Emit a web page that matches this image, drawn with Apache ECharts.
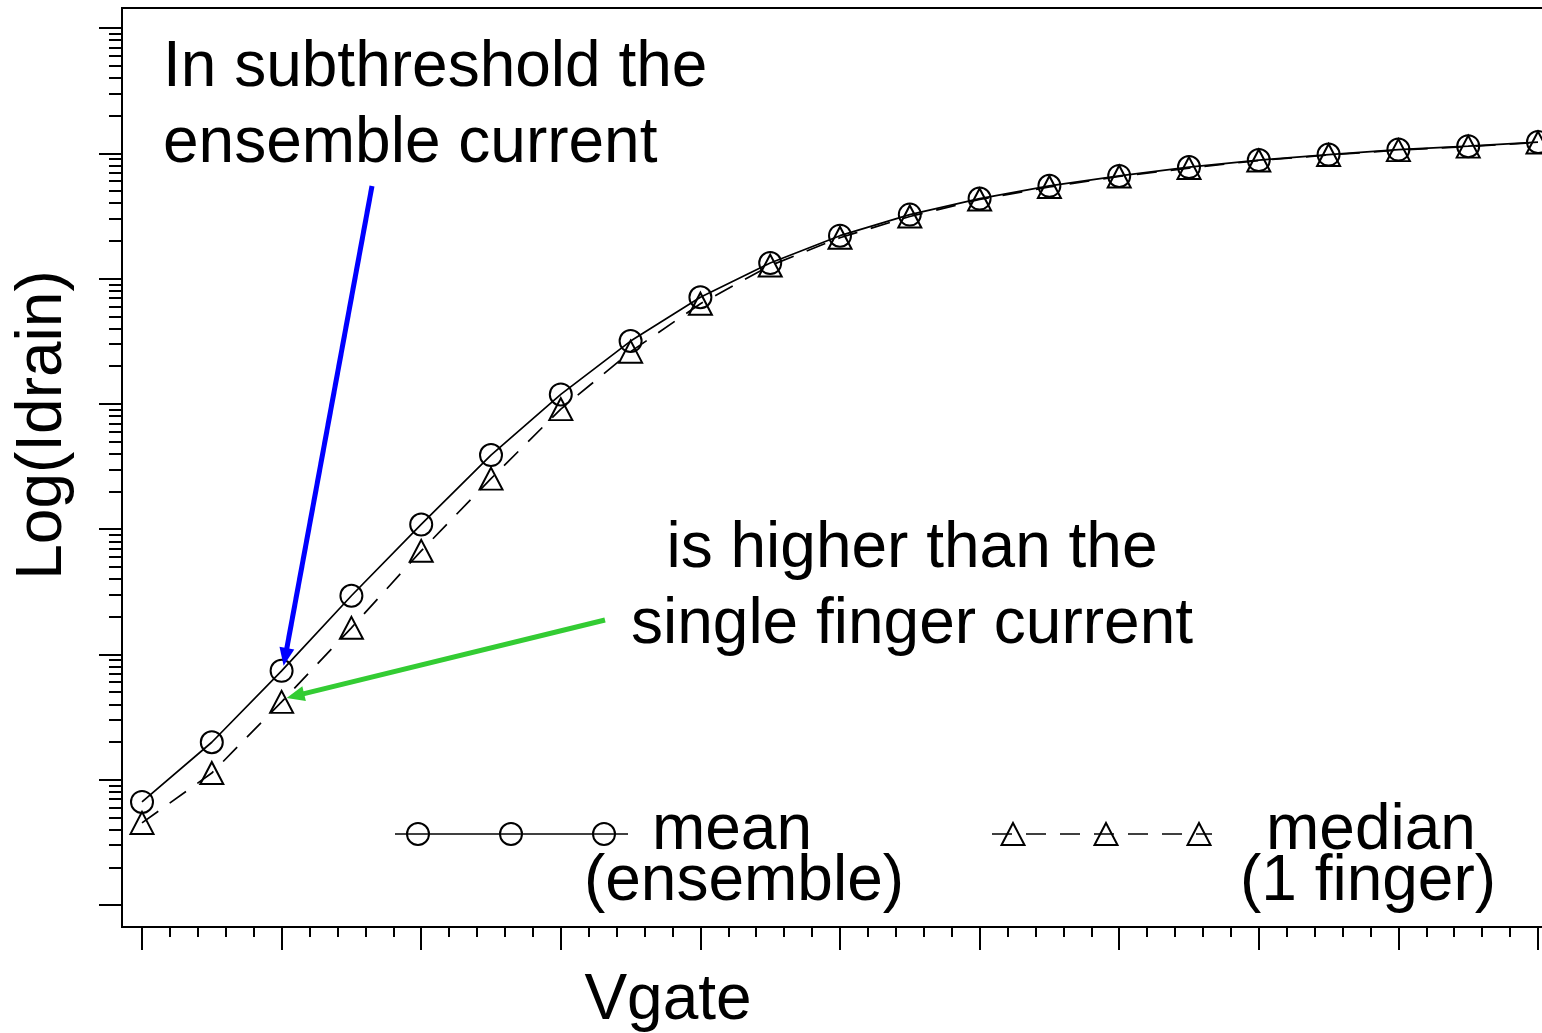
<!DOCTYPE html>
<html>
<head>
<meta charset="utf-8">
<title>Log(Idrain) vs Vgate</title>
<script src="https://cdn.jsdelivr.net/npm/echarts@6/dist/echarts.min.js"></script>
<style>
  html, body { margin: 0; padding: 0; background: #fff; overflow: hidden; }
  #main { width: 1542px; height: 1033px; }
</style>
</head>
<body>
<div id="main"></div>
<script>
// Gate voltage sweep (V)
const vgate = [0.00, 0.05, 0.10, 0.15, 0.20, 0.25, 0.30, 0.35, 0.40, 0.45, 0.50,
               0.55, 0.60, 0.65, 0.70, 0.75, 0.80, 0.85, 0.90, 0.95, 1.00];

// Mean drain current of the ensemble (A)
const meanCurrent = [6.65e-12, 1.99e-11, 7.4e-11, 2.94e-10, 1.09e-9, 3.9e-9, 1.19e-8,
                     3.17e-8, 7.1e-8, 1.33e-7, 2.2e-7, 3.24e-7, 4.35e-7, 5.5e-7,
                     6.6e-7, 7.76e-7, 8.83e-7, 9.77e-7, 1.07e-6, 1.14e-6, 1.23e-6];

// Median drain current of a single finger (A)
const medianCurrent = [4.52e-12, 1.13e-11, 4.18e-11, 1.63e-10, 6.71e-10, 2.53e-9, 9.08e-9,
                       2.61e-8, 6.3e-8, 1.27e-7, 2.12e-7, 3.13e-7, 4.28e-7, 5.38e-7,
                       6.53e-7, 7.62e-7, 8.75e-7, 9.68e-7, 1.06e-6, 1.13e-6, 1.22e-6];

// Tick positions (no tick labels are drawn)
const xMajorTicks = [0, 0.1, 0.2, 0.3, 0.4, 0.5, 0.6, 0.7, 0.8, 0.9, 1.0];
const xMinorTicks = [];
for (let i = 0; i < 50; i++) {
  if (i % 5 !== 0) xMinorTicks.push(+(i * 0.02).toFixed(2));
}
const yMajorTicks = [1e-12, 1e-11, 1e-10, 1e-9, 1e-8, 1e-7, 1e-6, 1e-5];
const yMinorTicks = [];
for (let e = -12; e < -5; e++) {
  for (let k = 2; k <= 9; k++) yMinorTicks.push(k * Math.pow(10, e));
}

const FONT = '"Liberation Sans", Arial, Helvetica, sans-serif';
const FONT_SIZE = 64;
const xRange = [-0.01433, 1.00573];
const yRange = [Math.pow(10, -12.1757), Math.pow(10, -4.8403)];

const chart = echarts.init(document.getElementById('main'), null, { renderer: 'canvas' });

const hiddenLabel = { show: false };
const noSplit = { show: false };

const option = {
  animation: false,
  backgroundColor: '#fff',
  grid: {
    left: 122, top: 8, width: 1424, height: 919,
    outerBoundsMode: 'none', containLabel: false,
    show: true, borderColor: '#000', borderWidth: 2, backgroundColor: 'transparent'
  },
  xAxis: [
    {
      type: 'value', min: xRange[0], max: xRange[1],
      axisLine: { show: true, onZero: false, lineStyle: { color: '#000', width: 2 } },
      axisTick: { show: true, inside: false, length: 23, customValues: xMajorTicks,
                  lineStyle: { color: '#000', width: 2 } },
      axisLabel: hiddenLabel, splitLine: noSplit
    },
    {
      type: 'value', min: xRange[0], max: xRange[1], position: 'bottom',
      axisLine: { show: false, onZero: false },
      axisTick: { show: true, inside: false, length: 10, customValues: xMinorTicks,
                  lineStyle: { color: '#000', width: 2 } },
      axisLabel: hiddenLabel, splitLine: noSplit
    }
  ],
  yAxis: [
    {
      type: 'log', logBase: 10, min: yRange[0], max: yRange[1],
      axisLine: { show: true, onZero: false, lineStyle: { color: '#000', width: 2 } },
      axisTick: { show: true, inside: false, length: 23, customValues: yMajorTicks,
                  lineStyle: { color: '#000', width: 2 } },
      axisLabel: hiddenLabel, splitLine: noSplit
    },
    {
      type: 'log', logBase: 10, min: yRange[0], max: yRange[1], position: 'left', offset: 0,
      axisLine: { show: false, onZero: false },
      axisTick: { show: true, inside: false, length: 13, customValues: yMinorTicks,
                  lineStyle: { color: '#000', width: 2 } },
      axisLabel: hiddenLabel, splitLine: noSplit
    }
  ],
  series: [
    {
      name: 'mean (ensemble)',
      type: 'line',
      xAxisIndex: 0, yAxisIndex: 0,
      data: vgate.map((v, i) => [v, meanCurrent[i]]),
      symbol: 'circle', symbolSize: 22,
      lineStyle: { color: '#000', width: 1.7, type: 'solid' },
      itemStyle: { color: 'rgba(0,0,0,0)', borderColor: '#000', borderWidth: 2 },
      z: 3
    },
    {
      name: 'median (1 finger)',
      type: 'line',
      xAxisIndex: 0, yAxisIndex: 0,
      data: vgate.map((v, i) => [v, medianCurrent[i]]),
      symbol: 'triangle', symbolSize: [23, 22],
      lineStyle: { color: '#000', width: 1.7, type: [20, 14] },
      itemStyle: { color: 'rgba(0,0,0,0)', borderColor: '#000', borderWidth: 2 },
      z: 2
    }
  ]
};

chart.setOption(option);

// Text and legend drawn as graphic elements
function txt(text, x, y, align, extra) {
  return Object.assign({
    type: 'text', x: x, y: y, z: 10,
    style: {
      text: text, fill: '#000', font: FONT_SIZE + 'px ' + FONT,
      textAlign: align || 'left', textVerticalAlign: 'middle'
    }
  }, extra || {});
}

function arrow(tail, tip, color) {
  const dx = tip[0] - tail[0], dy = tip[1] - tail[1];
  const len = Math.sqrt(dx * dx + dy * dy);
  const ux = dx / len, uy = dy / len;
  const nx = -uy, ny = ux;
  const L = 18, W = 7.5;
  const bx = tip[0] - ux * L, by = tip[1] - uy * L;
  return [
    { type: 'line', z: 9, shape: { x1: tail[0], y1: tail[1], x2: bx + ux * 2, y2: by + uy * 2 },
      style: { stroke: color, lineWidth: 5 } },
    { type: 'polygon', z: 9,
      shape: { points: [[tip[0], tip[1]], [bx + nx * W, by + ny * W], [bx - nx * W, by - ny * W]] },
      style: { fill: color } }
  ];
}

const pMean = chart.convertToPixel({ seriesIndex: 0 }, [vgate[2], meanCurrent[2]]);
const pMedian = chart.convertToPixel({ seriesIndex: 1 }, [vgate[2], medianCurrent[2]]);

const legendLineY = 834;
const meanKeys = [418, 511, 604];
const medianKeys = [1013, 1106, 1199];

const graphics = [
  // annotations
  {
    type: 'text', x: 163, y: 106, z: 10,
    style: { text: 'In subthreshold the\nensemble current', fill: '#000', font: FONT_SIZE + 'px ' + FONT,
             lineHeight: 76, textAlign: 'left', textVerticalAlign: 'middle' }
  },
  {
    type: 'text', x: 912, y: 587, z: 10,
    style: { text: 'is higher than the\nsingle finger current', fill: '#000', font: FONT_SIZE + 'px ' + FONT,
             lineHeight: 76, textAlign: 'center', textVerticalAlign: 'middle' }
  },
  ...arrow([372, 186], [pMean[0] + 2, pMean[1] - 5], '#0000ff'),
  ...arrow([605, 620], [pMedian[0] + 5, pMedian[1] - 4], '#33cc33'),

  // legend keys
  { type: 'line', z: 8, shape: { x1: 395, y1: legendLineY, x2: 628, y2: legendLineY },
    style: { stroke: '#000', lineWidth: 1.7 } },
  ...meanKeys.map(cx => ({ type: 'circle', z: 8, shape: { cx: cx, cy: legendLineY, r: 11 },
    style: { fill: 'rgba(0,0,0,0)', stroke: '#000', lineWidth: 2 } })),
  { type: 'line', z: 8, shape: { x1: 992, y1: legendLineY, x2: 1212, y2: legendLineY },
    style: { stroke: '#000', lineWidth: 1.7, lineDash: [20, 14] } },
  ...medianKeys.map(cx => ({ type: 'polygon', z: 8,
    shape: { points: [[cx, legendLineY - 11], [cx + 11.5, legendLineY + 11], [cx - 11.5, legendLineY + 11]] },
    style: { fill: 'rgba(0,0,0,0)', stroke: '#000', lineWidth: 2 } })),
  txt('mean', 732, 831, 'center'),
  txt('(ensemble)', 744, 882, 'center'),
  txt('median', 1371, 831, 'center'),
  txt('(1 finger)', 1368, 882, 'center'),

  // axis titles
  txt('Vgate', 668, 1001, 'center'),
  txt('Log(Idrain)', 43, 425, 'center', { rotation: Math.PI / 2 })
];

chart.setOption({ graphic: graphics });
</script>
</body>
</html>
